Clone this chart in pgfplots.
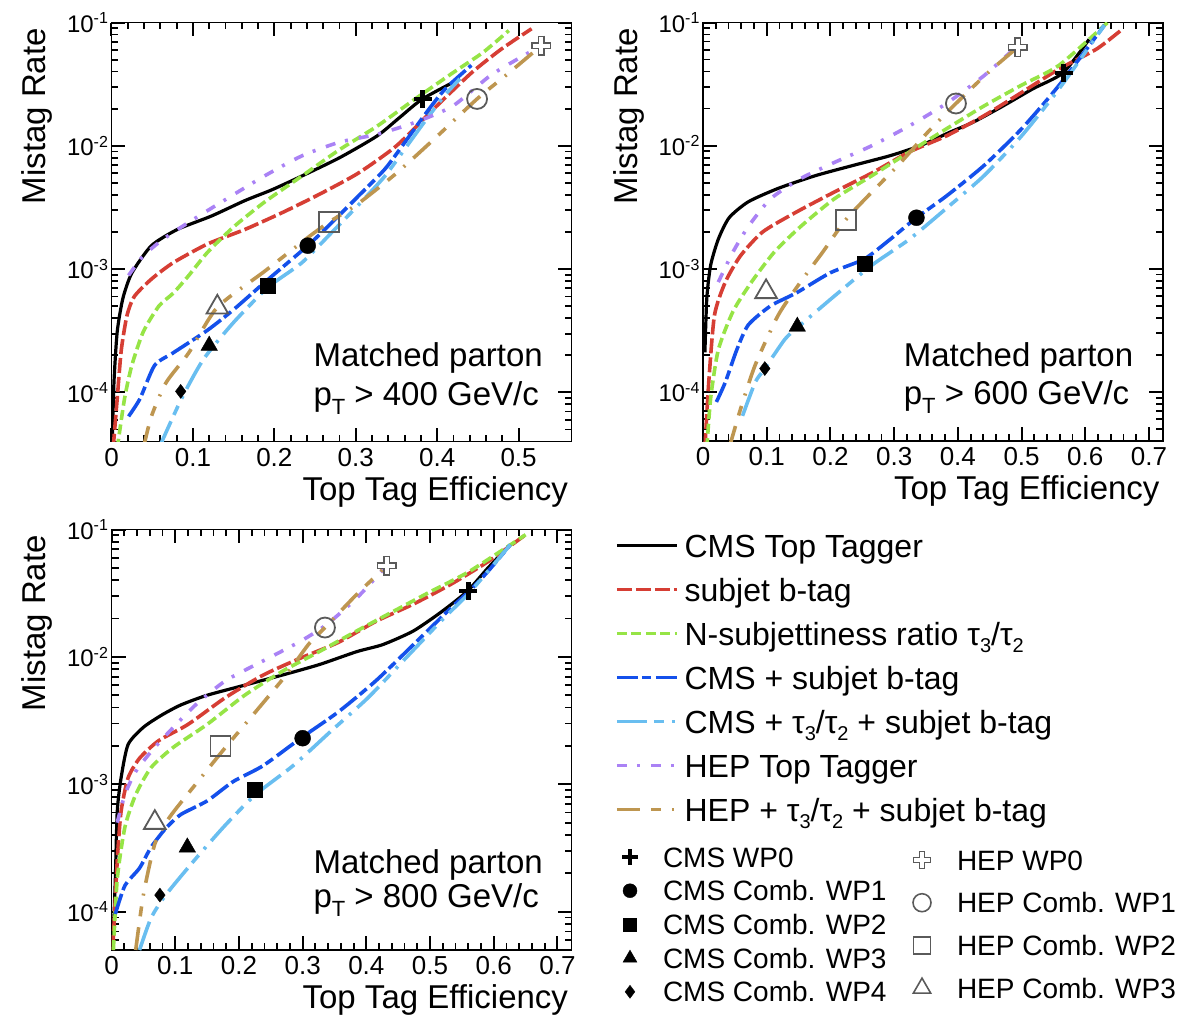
\documentclass[border=0pt]{standalone}
\usepackage{fontspec}
\setmainfont{Liberation Sans}
\usepackage{pgfplots}
\pgfplotsset{compat=1.18}

\definecolor{cred}{RGB}{214,62,52}
\definecolor{cgreen}{RGB}{150,228,70}
\definecolor{cblue}{RGB}{20,80,235}
\definecolor{clblue}{RGB}{105,190,240}
\definecolor{cpurple}{RGB}{170,130,245}
\definecolor{ctan}{RGB}{190,150,80}
\definecolor{hepgray}{RGB}{90,90,90}

\newcommand\tp[1]{10\raisebox{8.5pt}{\fontsize{16}{16}\selectfont -#1}}
\newcommand\fA{\fontsize{33}{38}\selectfont}
\newcommand\fT{\fontsize{24}{28}\selectfont}
\newcommand\fX{\fontsize{26}{30}\selectfont}

\tikzset{
 lcms/.style={black, line width=3.2pt, solid, smooth, tension=0.4},
 lred/.style={cred, line width=3.6pt, dash pattern=on 15pt off 4pt, smooth, tension=0.4},
 lgreen/.style={cgreen, line width=3.6pt, dash pattern=on 10pt off 4.5pt, smooth, tension=0.4},
 lblue/.style={cblue, line width=3.6pt, dash pattern=on 21pt off 4pt on 9pt off 5pt, smooth, tension=0.4},
 llblue/.style={clblue, line width=3.6pt, dash pattern=on 30pt off 7pt on 10pt off 8pt on 3pt off 8pt, smooth, tension=0.4},
 lpurple/.style={cpurple, line width=3.6pt, dash pattern=on 10pt off 10pt on 3pt off 11pt, smooth, tension=0.4},
 ltan/.style={ctan, line width=3.6pt, dash pattern=on 23pt off 11pt on 10pt off 11pt on 2pt off 11pt, smooth, tension=0.4},
}

\pgfplotsset{
 pbase/.style={
  scale only axis, width=460pt, xmin=0, ymax=0.1,
  axis line style={line width=1.8pt},
  minor x tick num=4,
  ytick={1e-4,1e-3,1e-2,1e-1},
  yticklabels={\tp{4},\tp{3},\tp{2},\tp{1}},
  minor ytick={2e-5,3e-5,4e-5,5e-5,6e-5,7e-5,8e-5,9e-5,2e-4,3e-4,4e-4,5e-4,6e-4,7e-4,8e-4,9e-4,2e-3,3e-3,4e-3,5e-3,6e-3,7e-3,8e-3,9e-3,2e-2,3e-2,4e-2,5e-2,6e-2,7e-2,8e-2,9e-2},
  yticklabel style={font=\fT},
  xticklabel style={font=\fX, yshift=-3pt},
  xlabel={Top Tag Efficiency},
  ylabel={Mistag Rate},
  xtick pos=both, ytick pos=both, tick align=inside,
  every axis y label/.style={at={(axis description cs:-0.143,0.995)}, rotate=90, anchor=base east, font=\fA},
  every axis x label/.style={at={(axis description cs:1,-0.14)}, anchor=base east, font=\fA},
 },
 cms0/.style={only marks, black, mark=+, mark size=9pt, mark options={solid, line width=4.5pt}},
 cms1/.style={only marks, black, mark=*, mark size=8pt, mark options={solid}},
 cms2/.style={only marks, black, mark=square*, mark size=7.5pt, mark options={solid}},
 cms3/.style={only marks, black, mark=triangle*, mark size=9.5pt, mark options={solid}},
 cms4/.style={only marks, black, mark=diamond*, mark size=7pt, mark options={solid}},
 hep0a/.style={only marks, hepgray, mark=+, mark size=10pt, mark options={solid, line width=7pt}},
 hep0b/.style={only marks, white, mark=+, mark size=8.5pt, mark options={solid, line width=4pt}},
 hep1/.style={only marks, hepgray, mark=o, mark size=10pt, mark options={solid, line width=1.8pt}},
 hep2/.style={only marks, hepgray, mark=square, mark size=10pt, mark options={solid, line width=1.8pt}},
 hep3/.style={only marks, hepgray, mark=triangle, mark size=12.5pt, mark options={solid, line width=1.8pt}},
}

\newcommand\wps[9]{%
 \addplot[cms0] coordinates {#1};
 \addplot[cms1] coordinates {#2};
 \addplot[cms2] coordinates {#3};
 \addplot[cms3] coordinates {#4};
 \addplot[cms4] coordinates {#5};
 \addplot[hep0a] coordinates {#6};
 \addplot[hep0b] coordinates {#6};
 \addplot[hep1] coordinates {#7};
 \addplot[hep2] coordinates {#8};
 \addplot[hep3] coordinates {#9};
}

\begin{document}
\begin{tikzpicture}

% ---------------- panel 1: pT > 400
\begin{axis}[ymode=log, pbase, at={(111.5pt,-441.5pt)}, anchor=south west, height=419pt,
  xmax=0.565, ymin=4e-5, xtick={0,0.1,0.2,0.3,0.4,0.5}, xticklabels={0,0.1,0.2,0.3,0.4,0.5},
  major tick length=14pt, minor tick length=7pt,
  major tick style={black, line width=2pt}, minor tick style={black, line width=1.8pt}]
\addplot[lcms] coordinates {(0.001,4e-5) (0.003,1.2e-4) (0.007,3.1e-4) (0.014,5.8e-4) (0.025,9.3e-4) (0.049,1.55e-3) (0.081,2.1e-3) (0.123,2.7e-3) (0.164,3.6e-3) (0.197,4.4e-3) (0.234,5.7e-3) (0.28,8.0e-3) (0.326,1.2e-2) (0.354,1.7e-2) (0.382,2.4e-2) (0.428,3.5e-2)};
\addplot[lred] coordinates {(0.002,3.5e-5) (0.007,8.9e-5) (0.012,2.2e-4) (0.019,4.2e-4) (0.028,6.0e-4) (0.049,8.3e-4) (0.076,1.13e-3) (0.118,1.6e-3) (0.164,2.1e-3) (0.211,2.9e-3) (0.257,4.1e-3) (0.303,6.0e-3) (0.35,1.0e-2) (0.396,2.0e-2) (0.442,3.9e-2) (0.479,6.1e-2) (0.516,8.9e-2)};
\addplot[lgreen] coordinates {(0.007,3.5e-5) (0.016,8.9e-5) (0.025,1.66e-4) (0.039,3.1e-4) (0.058,5.0e-4) (0.076,6.4e-4) (0.095,8.9e-4) (0.118,1.37e-3) (0.15,2.2e-3) (0.188,3.5e-3) (0.234,5.7e-3) (0.28,9.3e-3) (0.326,1.44e-2) (0.373,2.4e-2) (0.419,3.9e-2) (0.456,5.7e-2) (0.488,8.6e-2)};
\addplot[lblue] coordinates {(0.021,6.4e-5) (0.035,8.9e-5) (0.053,1.66e-4) (0.076,2.1e-4) (0.118,3.2e-4) (0.15,4.7e-4) (0.188,7.8e-4) (0.241,1.55e-3) (0.271,2.4e-3) (0.303,3.9e-3) (0.336,6.5e-3) (0.363,1.13e-2) (0.387,1.87e-2) (0.41,2.9e-2) (0.442,4.5e-2)};
\addplot[llblue] coordinates {(0.058,3.5e-5) (0.086,8.9e-5) (0.113,1.86e-4) (0.15,3.7e-4) (0.192,7.1e-4) (0.234,1.13e-3) (0.271,2.0e-3) (0.303,3.3e-3) (0.336,5.7e-3) (0.363,1.0e-2) (0.387,1.65e-2) (0.41,2.6e-2) (0.428,3.5e-2)};
\addplot[lpurple] coordinates {(0.021,8.9e-4) (0.039,1.28e-3) (0.063,1.74e-3) (0.095,2.4e-3) (0.141,3.7e-3) (0.188,5.7e-3) (0.234,8.3e-3) (0.28,1.07e-2) (0.326,1.24e-2) (0.373,1.55e-2) (0.419,2.1e-2) (0.465,3.7e-2) (0.502,5.2e-2) (0.528,6.5e-2)};
\addplot[ltan] coordinates {(0.039,3.5e-5) (0.049,6.4e-5) (0.067,1.2e-4) (0.095,2.1e-4) (0.13,4.9e-4) (0.188,9.6e-4) (0.241,1.8e-3) (0.267,2.4e-3) (0.303,3.4e-3) (0.35,6.0e-3) (0.396,1.13e-2) (0.449,2.4e-2) (0.488,3.9e-2) (0.528,6.5e-2)};
\wps{(0.382,2.4e-2)}{(0.241,1.55e-3)}{(0.192,7.3e-4)}{(0.12,2.4e-4)}{(0.085,1.02e-4)}{(0.528,6.5e-2)}{(0.449,2.4e-2)}{(0.267,2.4e-3)}{(0.13,4.9e-4)}
\node[anchor=base west, font=\fA] at (rel axis cs:0.4315,0.178) {Matched parton};
\node[anchor=base west, font=\fA] at (rel axis cs:0.4315,0.087) {p\raisebox{-9pt}{\fontsize{22}{22}\selectfont T} > 400 GeV/c};
\end{axis}

% ---------------- panel 2: pT > 600
\begin{axis}[ymode=log, pbase, at={(703pt,-441pt)}, anchor=south west, height=418.5pt,
  xmax=0.722, ymin=4e-5, xtick={0,0.1,0.2,0.3,0.4,0.5,0.6,0.7}, xticklabels={0,0.1,0.2,0.3,0.4,0.5,0.6,0.7},
  major tick length=14pt, minor tick length=7pt,
  major tick style={black, line width=2pt}, minor tick style={black, line width=1.8pt}]
\addplot[lcms] coordinates {(0.003,2.1e-4) (0.006,5.8e-4) (0.012,1.07e-3) (0.024,1.74e-3) (0.041,2.6e-3) (0.071,3.5e-3) (0.118,4.5e-3) (0.176,5.7e-3) (0.235,6.9e-3) (0.294,8.3e-3) (0.341,1.0e-2) (0.388,1.29e-2) (0.424,1.55e-2) (0.471,2.1e-2) (0.518,2.9e-2) (0.565,3.9e-2) (0.606,7.3e-2)};
\addplot[lred] coordinates {(0.003,3.5e-5) (0.009,1.2e-4) (0.018,4.2e-4) (0.035,7.8e-4) (0.059,1.28e-3) (0.094,2.0e-3) (0.147,2.9e-3) (0.206,4.2e-3) (0.265,6.0e-3) (0.324,8.9e-3) (0.382,1.2e-2) (0.441,1.75e-2) (0.5,2.7e-2) (0.559,4.2e-2) (0.618,6.1e-2) (0.659,8.9e-2)};
\addplot[lgreen] coordinates {(0.006,3.5e-5) (0.012,8.9e-5) (0.024,2.2e-4) (0.047,4.5e-4) (0.076,7.8e-4) (0.112,1.37e-3) (0.153,2.2e-3) (0.206,3.7e-3) (0.265,5.7e-3) (0.324,8.9e-3) (0.382,1.37e-2) (0.441,2.1e-2) (0.5,3.1e-2) (0.559,4.5e-2) (0.635,1.0e-1)};
\addplot[lblue] coordinates {(0.021,8.3e-5) (0.035,1.2e-4) (0.053,2.2e-4) (0.071,3.5e-4) (0.106,5.0e-4) (0.147,6.4e-4) (0.2,9.3e-4) (0.253,1.2e-3) (0.294,1.74e-3) (0.335,2.6e-3) (0.382,3.9e-3) (0.441,6.9e-3) (0.5,1.37e-2) (0.559,3.1e-2) (0.63,9.5e-2)};
\addplot[llblue] coordinates {(0.062,6.4e-5) (0.082,1.2e-4) (0.097,1.55e-4) (0.129,2.7e-4) (0.153,3.5e-4) (0.206,6.0e-4) (0.265,1.07e-3) (0.324,1.74e-3) (0.382,3.1e-3) (0.441,5.7e-3) (0.5,1.2e-2) (0.559,2.9e-2) (0.63,9.5e-2)};
\addplot[lpurple] coordinates {(0.024,7.8e-4) (0.047,1.37e-3) (0.071,2.2e-3) (0.106,3.7e-3) (0.153,5.4e-3) (0.206,7.3e-3) (0.265,1.0e-2) (0.324,1.45e-2) (0.382,2.2e-2) (0.441,3.7e-2) (0.488,6.1e-2)};
\addplot[ltan] coordinates {(0.041,3.5e-5) (0.059,7.3e-5) (0.082,1.66e-4) (0.118,4.2e-4) (0.153,7.8e-4) (0.188,1.37e-3) (0.224,2.5e-3) (0.265,4.2e-3) (0.306,6.9e-3) (0.353,1.29e-2) (0.397,2.2e-2) (0.447,3.9e-2) (0.494,6.3e-2)};
\wps{(0.566,3.9e-2)}{(0.335,2.6e-3)}{(0.253,1.1e-3)}{(0.148,3.4e-4)}{(0.097,1.55e-4)}{(0.494,6.3e-2)}{(0.397,2.2e-2)}{(0.224,2.5e-3)}{(0.099,6.5e-4)}
\node[anchor=base west, font=\fA] at (rel axis cs:0.429,0.178) {Matched parton};
\node[anchor=base west, font=\fA] at (rel axis cs:0.429,0.087) {p\raisebox{-9pt}{\fontsize{22}{22}\selectfont T} > 600 GeV/c};
\end{axis}

% ---------------- panel 3: pT > 800
\begin{axis}[ymode=log, pbase, at={(111.5pt,-950pt)}, anchor=south west, height=420.5pt,
  xmax=0.722, ymin=5e-5, xtick={0,0.1,0.2,0.3,0.4,0.5,0.6,0.7}, xticklabels={0,0.1,0.2,0.3,0.4,0.5,0.6,0.7},
  major tick length=14pt, minor tick length=7pt,
  major tick style={black, line width=2pt}, minor tick style={black, line width=1.8pt}]
\addplot[lcms] coordinates {(0.002,5e-5) (0.006,1.8e-4) (0.009,6.1e-4) (0.015,1.12e-3) (0.026,2.05e-3) (0.05,2.8e-3) (0.079,3.5e-3) (0.109,4.2e-3) (0.15,5.0e-3) (0.209,6.0e-3) (0.268,7.2e-3) (0.326,8.7e-3) (0.385,1.1e-2) (0.426,1.25e-2) (0.474,1.6e-2) (0.52,2.3e-2) (0.559,3.3e-2) (0.591,5.0e-2) (0.626,7.6e-2)};
\addplot[lred] coordinates {(0.002,5e-5) (0.009,2.5e-4) (0.015,6.1e-4) (0.026,1.12e-3) (0.044,1.6e-3) (0.074,2.2e-3) (0.12,2.95e-3) (0.179,4.8e-3) (0.238,7.2e-3) (0.297,9.8e-3) (0.356,1.3e-2) (0.415,1.9e-2) (0.474,2.6e-2) (0.532,3.7e-2) (0.591,5.6e-2) (0.65,9.1e-2)};
\addplot[lgreen] coordinates {(0.003,5e-5) (0.009,1.8e-4) (0.021,4.6e-4) (0.038,8.3e-4) (0.062,1.35e-3) (0.097,1.95e-3) (0.15,2.95e-3) (0.209,5.0e-3) (0.268,7.7e-3) (0.326,1.1e-2) (0.385,1.6e-2) (0.444,2.3e-2) (0.503,3.3e-2) (0.562,4.7e-2) (0.65,9.1e-2)};
\addplot[lblue] coordinates {(0.006,9.6e-5) (0.021,1.6e-4) (0.044,2.2e-4) (0.062,3.2e-4) (0.085,4.5e-4) (0.109,5.8e-4) (0.15,7.4e-4) (0.191,1.05e-3) (0.238,1.4e-3) (0.297,2.3e-3) (0.356,3.7e-3) (0.415,6.5e-3) (0.474,1.25e-2) (0.532,2.4e-2) (0.562,3.3e-2) (0.591,4.7e-2) (0.626,7.6e-2)};
\addplot[llblue] coordinates {(0.044,5e-5) (0.062,8.9e-5) (0.085,1.35e-4) (0.132,2.6e-4) (0.179,4.8e-4) (0.226,8.3e-4) (0.285,1.4e-3) (0.344,2.6e-3) (0.403,4.8e-3) (0.462,9.8e-3) (0.521,2.0e-2) (0.562,3.2e-2) (0.626,7.6e-2)};
\addplot[lpurple] coordinates {(0.009,5.0e-4) (0.021,8.3e-4) (0.038,1.26e-3) (0.062,1.8e-3) (0.091,2.6e-3) (0.132,4.2e-3) (0.179,6.5e-3) (0.238,9.3e-3) (0.297,1.33e-2) (0.338,1.8e-2) (0.385,2.9e-2) (0.432,5.2e-2)};
\addplot[ltan] coordinates {(0.038,5e-5) (0.05,1.35e-4) (0.068,3.4e-4) (0.091,5.5e-4) (0.132,1.0e-3) (0.179,1.95e-3) (0.226,3.7e-3) (0.274,7.2e-3) (0.309,1.25e-2) (0.335,1.7e-2) (0.385,3.1e-2) (0.432,5.2e-2)};
\wps{(0.56,3.3e-2)}{(0.3,2.3e-3)}{(0.225,9.1e-4)}{(0.119,3.2e-4)}{(0.076,1.35e-4)}{(0.432,5.2e-2)}{(0.335,1.7e-2)}{(0.171,2.0e-3)}{(0.068,5.0e-4)}
\node[anchor=base west, font=\fA] at (rel axis cs:0.4315,0.183) {Matched parton};
\node[anchor=base west, font=\fA] at (rel axis cs:0.4315,0.10) {p\raisebox{-9pt}{\fontsize{22}{22}\selectfont T} > 800 GeV/c};
\end{axis}

% ---------------- line legend
\begin{axis}[hide axis, scale only axis, width=10pt, height=10pt, xmin=0, xmax=1, ymin=0, ymax=1,
  at={(615pt,-533pt)}, anchor=north west, legend cell align=left,
  legend image code/.code={\draw[#1] (0pt,3.5pt) -- (60pt,3.5pt);},
  legend style={at={(0,1)}, anchor=north west, draw=none, fill=none, inner sep=0pt, outer sep=0pt,
    row sep=12pt, font=\fontsize{32}{36}\selectfont,
    nodes={inner sep=0pt, text height=24pt, text depth=8pt},
    /tikz/every odd column/.append style={column sep=6pt}}]
\addlegendimage{lcms}\addlegendentry{CMS Top Tagger}
\addlegendimage{lred}\addlegendentry{subjet b-tag}
\addlegendimage{lgreen}\addlegendentry{N-subjettiness ratio τ\raisebox{-7pt}{\fontsize{20}{20}\selectfont 3}/τ\raisebox{-7pt}{\fontsize{20}{20}\selectfont 2}}
\addlegendimage{lblue}\addlegendentry{CMS + subjet b-tag}
\addlegendimage{llblue}\addlegendentry{CMS + τ\raisebox{-7pt}{\fontsize{20}{20}\selectfont 3}/τ\raisebox{-7pt}{\fontsize{20}{20}\selectfont 2} + subjet b-tag}
\addlegendimage{lpurple}\addlegendentry{HEP Top Tagger}
\addlegendimage{ltan}\addlegendentry{HEP + τ\raisebox{-7pt}{\fontsize{20}{20}\selectfont 3}/τ\raisebox{-7pt}{\fontsize{20}{20}\selectfont 2} + subjet b-tag}
\end{axis}

% ---------------- CMS marker legend
\begin{axis}[hide axis, scale only axis, width=10pt, height=10pt, xmin=0, xmax=1, ymin=0, ymax=1,
  at={(622pt,-847pt)}, anchor=north west, legend cell align=left,
  legend image code/.code={\path[draw=none] (0pt,0pt) -- (16pt,0pt); \draw[#1] plot coordinates {(8pt,3pt)};},
  legend style={at={(0,1)}, anchor=north west, draw=none, fill=none, inner sep=0pt, outer sep=0pt,
    row sep=7.7pt, font=\fontsize{28}{32}\selectfont,
    nodes={inner sep=0pt, text height=20pt, text depth=6pt},
    /tikz/every odd column/.append style={column sep=25pt}}]
\addlegendimage{black, mark=+, mark size=8pt, mark options={solid, line width=4pt}}\addlegendentry{CMS WP0}
\addlegendimage{black, mark=*, mark size=7pt}\addlegendentry{CMS Comb. WP1}
\addlegendimage{black, mark=square*, mark size=6.5pt}\addlegendentry{CMS Comb. WP2}
\addlegendimage{black, mark=triangle*, mark size=8pt}\addlegendentry{CMS Comb. WP3}
\addlegendimage{black, mark=diamond*, mark size=6.5pt}\addlegendentry{CMS Comb. WP4}
\end{axis}

% ---------------- HEP marker legend
\begin{axis}[hide axis, scale only axis, width=10pt, height=10pt, xmin=0, xmax=1, ymin=0, ymax=1,
  at={(913pt,-850pt)}, anchor=north west, legend cell align=left,
  legend image code/.code={\path[draw=none] (0pt,0pt) -- (16pt,0pt); \draw[#1] plot coordinates {(8pt,3pt)};},
  legend style={at={(0,1)}, anchor=north west, draw=none, fill=none, inner sep=0pt, outer sep=0pt,
    row sep=16.7pt, font=\fontsize{28}{32}\selectfont,
    nodes={inner sep=0pt, text height=20pt, text depth=6pt},
    /tikz/every odd column/.append style={column sep=26pt}}]
\addlegendimage{legend image code/.code={\path[draw=none] (0pt,0pt) -- (16pt,0pt);
  \draw[hepgray] plot[mark=+, mark size=9pt, mark options={solid, line width=6.5pt}] coordinates {(8pt,3pt)};
  \draw[white] plot[mark=+, mark size=7.6pt, mark options={solid, line width=3.8pt}] coordinates {(8pt,3pt)};}}
\addlegendentry{HEP WP0}
\addlegendimage{hepgray, mark=o, mark size=9pt, mark options={solid, line width=1.6pt}}\addlegendentry{HEP Comb. WP1}
\addlegendimage{hepgray, mark=square, mark size=8.5pt, mark options={solid, line width=1.6pt}}\addlegendentry{HEP Comb. WP2}
\addlegendimage{hepgray, mark=triangle, mark size=10pt, mark options={solid, line width=1.6pt}}\addlegendentry{HEP Comb. WP3}
\end{axis}
\path (0pt,0pt) (1177pt,-1020pt);
\end{tikzpicture}
\end{document}
